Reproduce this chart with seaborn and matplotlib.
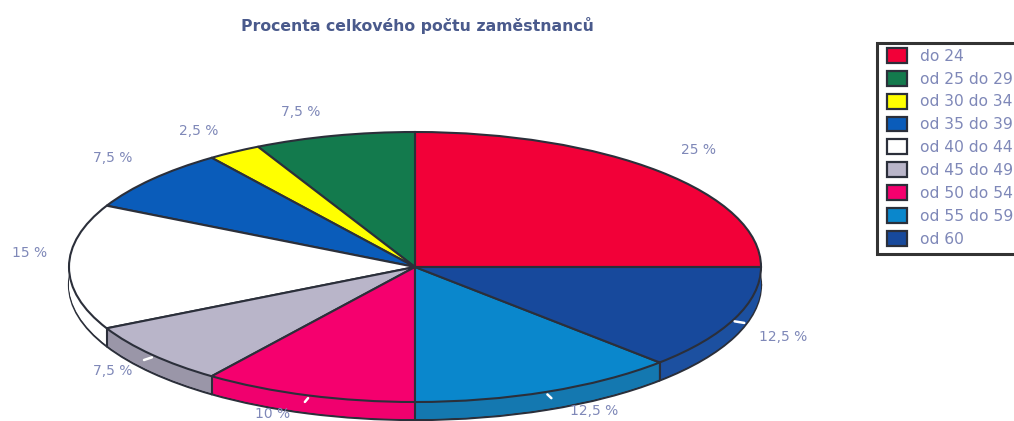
import numpy as np
import matplotlib
matplotlib.use("Agg")
import matplotlib.pyplot as plt
from matplotlib.patches import Rectangle
import seaborn as sns

title = "Procenta celkového počtu zaměstnanců"
categories = ["do 24", "od 25 do 29", "od 30 do 34", "od 35 do 39", "od 40 do 44",
              "od 45 do 49", "od 50 do 54", "od 55 do 59", "od 60"]
values = [25, 7.5, 2.5, 7.5, 15, 7.5, 10, 12.5, 12.5]
value_labels = ["25 %", "7,5 %", "2,5 %", "7,5 %", "15 %", "7,5 %", "10 %", "12,5 %", "12,5 %"]
top_colors = ["#f20038", "#137a4d", "#ffff00", "#0a5cba", "#ffffff",
              "#b9b5c9", "#f5006e", "#0a87cc", "#17499c"]
side_colors = ["#c8002e", "#0f5f3c", "#cccc00", "#084a96", "#ffffff",
               "#9a96a8", "#f0006e", "#1478b0", "#1c50a0"]

W, H = 1014, 421
CX, CY, RX, RY, DEPTH = 415, 267, 346, 135, 18
label_px = [(699, 150), (301, 112), (199, 131), (113, 158), (30, 253),
            (113, 371), (273, 414), (594, 411), (783, 337)]
EDGE = "#2b2f3a"
TEXT = "#7f88b8"

sns.set_theme(style="white")
plt.rcParams["font.family"] = ["DejaVu Sans"]

fig = plt.figure(figsize=(W / 100, H / 100), dpi=100, facecolor="white")
ax = fig.add_axes([0, 0, 1, 1])

d = DEPTH / RY
for k, off in enumerate(np.linspace(d, 0, 19)):
    is_bottom = k == 0
    ax.pie(values, colors=sns.color_palette(side_colors), startangle=0, center=(0, -off),
           wedgeprops=dict(edgecolor=EDGE if is_bottom else "none",
                           linewidth=1.6 if is_bottom else 0))
wedges, _ = ax.pie(values, colors=sns.color_palette(top_colors), startangle=0,
                   wedgeprops=dict(edgecolor=EDGE, linewidth=1.5))

ends = np.deg2rad(np.cumsum(values) / 100 * 360)
mids = ends - np.deg2rad(np.array(values) / 100 * 180)
for a in ends:
    if np.sin(a) < -0.01:
        ax.plot([np.cos(a)] * 2, [np.sin(a), np.sin(a) - d], color=EDGE, lw=1.5, zorder=5)
for a, v in zip(mids, values):
    if np.sin(a) < -0.01 and v != 15:
        ax.plot([np.cos(a), 1.03 * np.cos(a)], [np.sin(a) - 0.02, 1.03 * np.sin(a) - 0.02],
                color="white", lw=1.8, zorder=6)

ax.set_aspect("auto")
ax.set_xlim(-CX / RX, (W - CX) / RX)
ax.set_ylim((CY - H) / RY, CY / RY)
ax.axis("off")

for txt, (px, py) in zip(value_labels, label_px):
    ax.text((px - CX) / RX, (CY - py) / RY, txt, ha="center", va="center",
            fontsize=10, color=TEXT, clip_on=False)

fig.text(417 / W, 1 - 26 / H, title, ha="center", va="center",
         fontsize=11.3, fontweight="bold", color="#4a5a8c")

# legend box runs off the right edge of the picture
fig.add_artist(Rectangle((877 / W, 1 - 254 / H), 160 / W, 211 / H, transform=fig.transFigure,
                         facecolor="white", edgecolor="#333333", linewidth=2.2))
leg = ax.legend(wedges, categories, loc="upper left", bbox_to_anchor=(887 / W, 1 - 48 / H),
                bbox_transform=fig.transFigure, fontsize=11.2, labelcolor=TEXT, frameon=False,
                borderaxespad=0, borderpad=0, labelspacing=0.46, handlelength=1.29,
                handleheight=1.09, handletextpad=0.83)
leg.set_zorder(10)
for h in leg.legend_handles:
    h.set_linewidth(1.6)
ax.set_zorder(2)
ax.patch.set_visible(False)

fig.savefig("out.png", dpi=100, facecolor="white")
